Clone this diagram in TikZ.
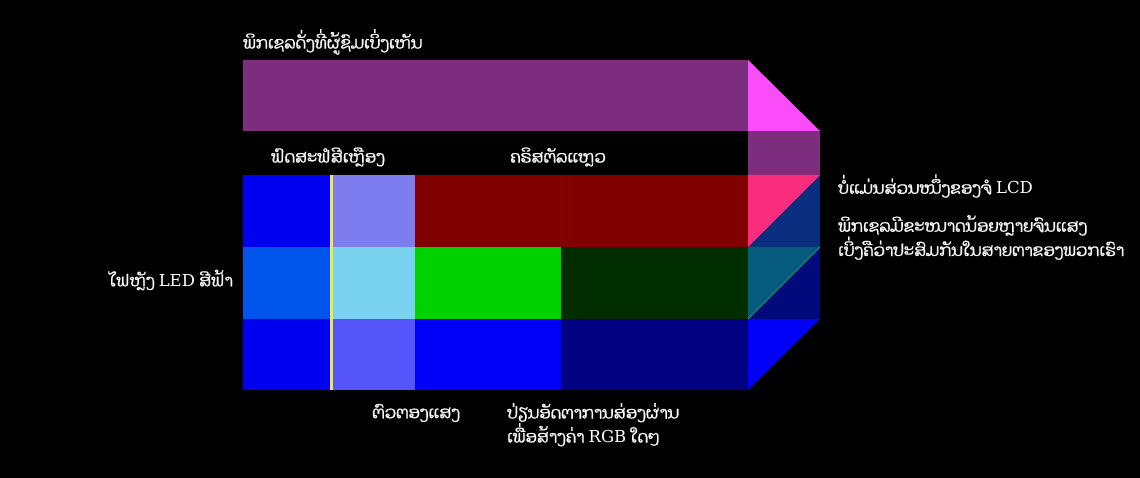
\documentclass[tikz,border=0pt]{standalone}
\usepackage{fontspec}
\newfontfamily\laofont[Script=Lao, FakeBold=1]{Dhyana}
\newfontfamily\latinfont{DejaVu Serif}
\definecolor{viewpurple}{RGB}{125,45,125}
\definecolor{viewpink}{RGB}{250,76,248}
\definecolor{backblue}{RGB}{0,0,240}
\definecolor{backmid}{RGB}{0,85,235}
\definecolor{filtred}{RGB}{125,125,240}
\definecolor{filtgreen}{RGB}{120,210,240}
\definecolor{filtblue}{RGB}{85,85,250}
\definecolor{lcred}{RGB}{128,0,0}
\definecolor{lcgreen}{RGB}{0,210,0}
\definecolor{lcblue}{RGB}{0,0,250}
\definecolor{darkgreen}{RGB}{0,45,0}
\definecolor{darknavy}{RGB}{0,0,128}
\definecolor{sidepink}{RGB}{250,45,125}
\definecolor{sidenavy}{RGB}{10,45,125}
\definecolor{sideteal}{RGB}{5,90,125}
\definecolor{sidedeep}{RGB}{0,10,125}
\definecolor{phosphor}{RGB}{240,235,60}
\tikzset{
    laolabel/.style={text=white, font=\laofont\fontsize{16.5}{21}\selectfont, inner sep=0pt, align=left},
}
\begin{document}
\begin{tikzpicture}[x=1pt, y=-1pt]
            \fill[black] (0,0) rectangle (1140,478);
            \useasboundingbox (0,0) rectangle (1140,478);
            % what the viewer sees
            \fill[viewpurple] (243,60) rectangle (748,131);
            \fill[viewpink] (748,60) -- (820,131) -- (748,131) -- cycle;
            \fill[viewpurple] (748,131) rectangle (820,175);
            % red row
            \fill[backblue] (243,175) rectangle (330,247);
            \fill[filtred] (333,175) rectangle (415,247);
            \fill[lcred] (415,175) rectangle (748,247);
            % green row
            \fill[backmid] (243,247) rectangle (330,319);
            \fill[filtgreen] (333,247) rectangle (415,319);
            \fill[lcgreen] (415,247) rectangle (561,319);
            \fill[darkgreen] (561,247) rectangle (748,319);
            % blue row
            \fill[backblue] (243,319) rectangle (330,390);
            \fill[filtblue] (333,319) rectangle (415,390);
            \fill[lcblue] (415,319) rectangle (561,390);
            \fill[darknavy] (561,319) rectangle (748,390);
            \draw[red!60!black, line width=0.6pt] (561,175) -- (561,247);
            \draw[blue!60!black, line width=0.6pt] (561,319) -- (561,390);
            \fill[phosphor] (330,175) rectangle (333,390);
            % side view
            \fill[sidenavy] (748,175) rectangle (820,247);
            \fill[sidepink] (748,175) -- (820,175) -- (748,247) -- cycle;
            \fill[sidedeep] (748,247) rectangle (820,319);
            \fill[sideteal] (748,247) -- (820,247) -- (748,319) -- cycle;
            \draw[teal!70!green, line width=0.8pt] (820,247) -- (748,319);
            \fill[lcblue] (748,319) -- (820,319) -- (748,390) -- cycle;
            % labels
            \node[laolabel, anchor=west] (seen) at (243,42) {ພິກເຊລດັ່ງທີ່ຜູ້ຊົມເບິ່ງເຫັນ};
            \node[laolabel, anchor=west] (phos) at (271,157) {ຟົດສະຟໍສີເຫຼືອງ};
            \node[laolabel, anchor=west] (crystal) at (510,157) {ຄຣິສຕັລແຫຼວ};
            \node[laolabel, anchor=east] (led) at (233,280) {ໄຟຫຼັງ {\latinfont LED} ສີຟ້າ};
            \node[laolabel, anchor=west] (filter) at (372,413) {ຕົວຕອງແສງ};
            \node[laolabel, anchor=north west] (rate) at (507,403) {ປ່ຽນອັດຕາການສ່ອງຜ່ານ\\ເພື່ອສ້າງຄ່າ {\latinfont RGB} ໃດໆ};
            \node[laolabel, anchor=west] (notlcd) at (838,186) {ບໍ່ແມ່ນສ່ວນໜຶ່ງຂອງຈໍ {\latinfont LCD}};
            \node[laolabel, anchor=north west] (blend) at (838,215) {ພິກເຊລມີຂະໜາດນ້ອຍຫຼາຍຈົນແສງ\\ເບິ່ງຄືວ່າປະສົມກັນໃນສາຍຕາຂອງພວກເຮົາ};
\end{tikzpicture}
\end{document}
